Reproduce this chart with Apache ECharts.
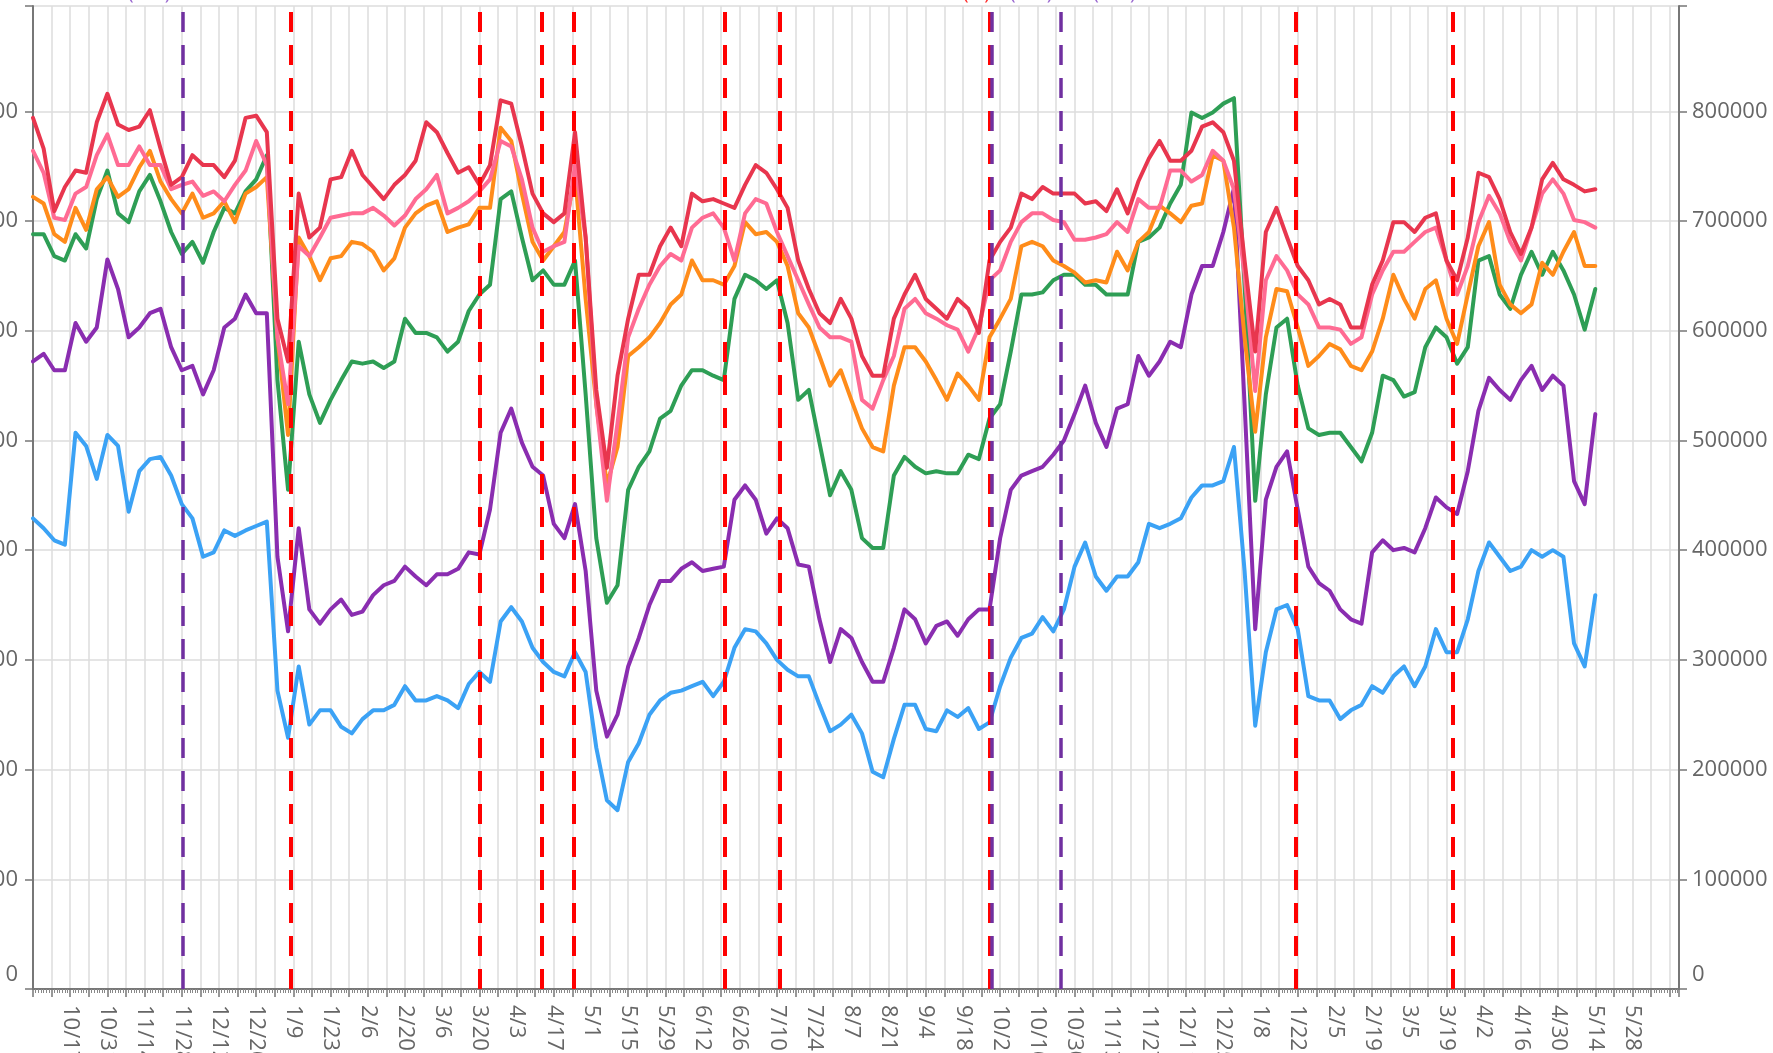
<!DOCTYPE html>
<html>
<head>
<meta charset="utf-8">
<script src="https://cdn.jsdelivr.net/npm/echarts@6/dist/echarts.min.js"></script>
<style>
html,body{margin:0;padding:0;background:#fff;}
#chart{width:1773px;height:1053px;}
</style>
</head>
<body>
<div id="chart"></div>
<script>
// x = day index counted from 10/3/2022 (one sample every 4 days)
const dayStep = 4;
const tickLabels = ['10/17','10/31','11/14','11/28','12/12','12/26','1/9','1/23','2/6','2/20','3/6','3/20','4/3','4/17','5/1','5/15','5/29','6/12','6/26','7/10','7/24','8/7','8/21','9/4','9/18','10/2','10/16','10/30','11/13','11/27','12/11','12/25','1/8','1/22','2/5','2/19','3/5','3/19','4/2','4/16','4/30','5/14','5/28'];

// values in thousands
const redVals = [794,766,709,731,746,744,790,816,788,783,
786,801,766,733,740,760,751,751,740,755,
794,796,781,611,572,725,685,694,738,740,
764,742,731,720,733,742,755,790,781,762,
744,749,733,751,810,807,768,725,707,699,
707,781,685,546,475,559,611,651,651,677,
694,677,725,718,720,716,712,733,751,744,
729,712,664,638,616,607,629,611,
577,559,559,611,633,651,629,620,611,629,
620,598,664,681,694,725,720,731,725,725,
725,716,718,709,729,707,736,757,773,755,
755,764,786,790,781,755,664,581,690,
712,685,659,646,624,629,624,603,603,642,
664,699,699,690,703,707,664,646,685,744,
740,720,690,670,694,738,753,738,733,727,729];

const pinkVals = [764,744,703,701,725,731,760,779,751,751,
768,751,751,729,733,736,723,727,718,733,
746,773,751,594,533,677,668,685,703,705,
707,707,712,705,696,705,720,729,742,707,
712,718,727,738,773,768,738,694,672,677,
681,751,685,533,445,516,594,620,642,659,
670,664,694,703,707,694,664,707,720,716,
690,668,646,624,603,594,594,590,
537,529,555,577,620,629,616,611,605,601,
581,603,646,655,681,699,707,707,701,699,
683,683,685,688,699,690,720,712,712,746,
746,736,742,764,755,729,651,545,646,
668,655,633,624,603,603,601,588,594,633,
655,672,672,681,690,694,664,633,659,699,
723,707,681,664,694,725,738,725,701,699,694];

const orangeVals = [722,716,688,681,712,692,729,740,722,729,
749,764,736,720,707,725,703,707,718,699,
725,731,740,594,505,685,668,646,666,668,
681,679,672,655,666,694,707,714,718,690,
694,697,712,712,785,773,725,681,664,677,
690,742,629,533,460,494,577,585,594,607,
624,633,664,646,646,642,659,699,688,690,
681,659,616,603,577,550,564,537,
511,494,490,550,585,585,572,555,537,561,
550,537,594,611,629,677,681,677,664,659,
653,644,646,644,672,655,681,690,714,707,
699,714,716,760,755,694,594,508,594,
638,636,603,568,577,588,583,568,564,581,
611,651,629,611,638,646,611,588,633,677,
699,642,624,616,624,662,651,672,690,659,659];

const greenVals = [688,688,668,664,688,675,720,746,707,699,
727,742,718,690,670,681,662,690,712,707,
727,738,760,555,455,590,542,516,537,555,
572,570,572,566,572,611,598,598,594,581,
590,618,633,642,720,727,685,646,655,642,
642,664,542,411,352,368,455,476,490,520,
527,550,564,564,559,555,629,651,646,638,
646,607,537,546,498,450,472,455,
411,402,402,468,485,476,470,472,470,470,
487,483,520,533,581,633,633,635,646,651,
651,642,642,633,633,633,681,685,694,716,
733,799,794,799,807,812,642,445,542,
603,611,550,511,505,507,507,494,481,507,
559,555,540,544,585,603,594,570,585,664,
668,633,620,651,672,651,672,655,633,601,638];

const purpleVals = [572,579,564,564,607,590,603,665,638,594,
603,616,620,585,564,568,542,564,603,611,
633,616,616,394,326,420,346,333,346,355,
341,344,359,368,372,385,376,368,378,378,
383,398,396,437,507,529,498,476,468,424,
411,442,381,272,230,250,294,320,350,372,
372,383,389,381,383,385,446,459,446,415,
429,420,387,385,337,298,328,320,
298,280,280,311,346,337,315,331,335,322,
337,346,346,411,455,468,472,476,487,500,
524,550,516,494,529,533,577,559,572,590,
585,633,659,659,690,730,533,328,446,
476,490,437,385,370,363,346,337,333,398,
409,400,402,398,420,448,439,433,472,527,
557,546,537,555,568,546,559,550,463,442,524];

const blueVals = [429,420,409,405,507,495,465,505,495,435,
472,483,485,468,442,429,394,398,418,413,
418,422,426,272,229,294,241,254,254,239,
233,246,254,254,259,276,263,263,267,263,
256,278,289,280,335,348,335,311,298,289,
285,307,289,220,172,163,207,224,250,263,
270,272,276,280,267,280,311,328,326,315,
300,291,285,285,259,235,241,250,
233,198,193,228,259,259,237,235,254,248,
256,237,243,276,302,320,324,339,326,346,
385,407,376,363,376,376,389,424,420,424,
429,448,459,459,463,494,381,240,307,
346,350,328,267,263,263,246,254,259,276,
270,285,294,276,294,328,307,307,337,381,
407,394,381,385,400,394,400,394,315,294,359];

// event lines (day index)
const redEvents = [97, 168, 191.4, 203.7, 260.2, 281, 360, 475.2, 534.5];
const purpleEvents = [56.5, 361, 386.7];
// notes above the plot (cut off by the top edge)
const redNotes = {360: '(…)'};
const purpleNotes = {56.5: '(……)', 361: '(……)', 386.7: '(……)'};
const noteShift = {56.5: -34, 360: -13, 361: 39, 386.7: 54};

const yMax = 896000;

function toPairs(vals){ return vals.map((v,i)=>[i*dayStep, v*1000]); }

const chart = echarts.init(document.getElementById('chart'), null, {renderer:'canvas'});
const axisColor = '#777';
const labelColor = '#666';
const fontFamily = 'Open Sans';

function yLabel(v){
  if (v === 0) return '{z|0}';
  return (v % 100000 === 0) ? String(v) : '';
}
function makeY(pos, margin){
  return {
    type:'value', position:pos, min:0, max:yMax, interval:100000,
    axisLine:{show:true, lineStyle:{color:axisColor, width:2}},
    axisTick:{show:true, length:8, lineStyle:{color:axisColor, width:1.5}},
    splitLine:{show: pos==='left', lineStyle:{color:'#dcdcdc', width:1.5}},
    axisLabel:{margin:margin, fontSize:22, color:labelColor, fontFamily:fontFamily,
      formatter:yLabel,
      rich:{z:{fontSize:22, color:labelColor, fontFamily:fontFamily, padding:[0,0,28,0]}}}
  };
}

const lineSeries = [
  ['blue', blueVals, '#3ba2f5'],
  ['purple', purpleVals, '#8a2db0'],
  ['green', greenVals, '#2e9e55'],
  ['orange', orangeVals, '#ff8c1a'],
  ['pink', pinkVals, '#ff6b93'],
  ['red', redVals, '#e8364e']
].map(([n, vals, c]) => ({
  name:n, type:'line', data:toPairs(vals), showSymbol:false, symbol:'none',
  lineStyle:{color:c, width:4, join:'round', cap:'round'}, itemStyle:{color:c}, z:3
}));

function eventItem(d, notes, textColor){
  const item = {xAxis:d};
  if (notes[d]) {
    item.label = {show:true, position:'end', formatter:notes[d], distance:3,
      offset:[noteShift[d] || 0, 0], color:textColor, fontSize:20, fontFamily:fontFamily};
  }
  return item;
}

const eventSeries = [
  {name:'redEv', type:'line', data:[], z:6, clip:false,
   markLine:{symbol:'none', silent:true, animation:false, label:{show:false},
     lineStyle:{color:'#ff0000', width:4, type:[20,13]},
     data:redEvents.map(d=>eventItem(d, redNotes, '#ff3030'))}},
  {name:'purpleEv', type:'line', data:[], z:6, clip:false,
   markLine:{symbol:'none', silent:true, animation:false, label:{show:false},
     lineStyle:{color:'#7030a0', width:3.5, type:[20,13]},
     data:purpleEvents.map(d=>eventItem(d, purpleNotes, '#9a68d0'))}}
];

chart.setOption({
  animation:false,
  backgroundColor:'#ffffff',
  grid:{left:33, right:94, top:6, bottom:64, containLabel:false, outerBoundsMode:'none'},
  xAxis:{
    type:'value', min:0, max:619.5, interval:7,
    axisLine:{onZero:false, lineStyle:{color:axisColor, width:2}},
    axisTick:{show:true, length:8, lineStyle:{color:axisColor, width:1.5}},
    minorTick:{show:true, splitNumber:7, length:4, lineStyle:{color:'#888', width:1}},
    splitLine:{show:true, lineStyle:{color:'#dcdcdc', width:1.5}},
    axisLabel:{rotate:-90, margin:16, fontSize:22, color:labelColor, fontFamily:fontFamily,
      showMinLabel:false, showMaxLabel:false,
      formatter:function(v){
        if (v % 14 !== 0 || v === 0) return '';
        const i = v/14 - 1;
        return tickLabels[i] || '';
      }}
  },
  yAxis:[makeY('left', 15), makeY('right', 13)],
  series: lineSeries.concat(eventSeries)
});
</script>
</body>
</html>
